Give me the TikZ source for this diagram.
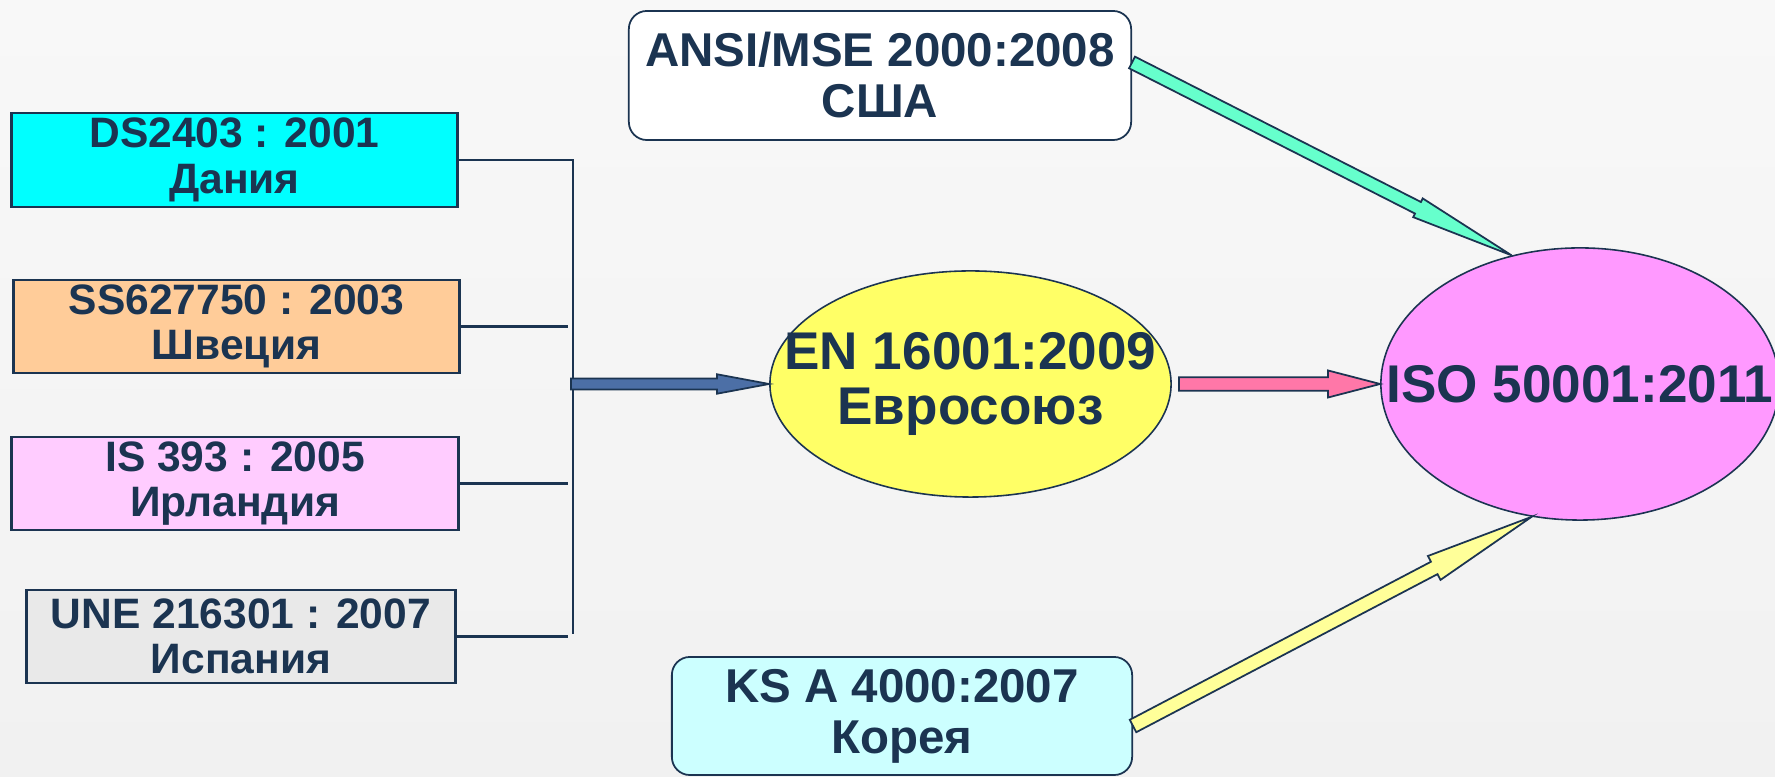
\documentclass[tikz,border=0pt]{standalone}
\usepackage{fontspec}
\setmainfont{Liberation Sans}
\usepackage{tikz}
\usetikzlibrary{shapes.geometric,calc}
\usepackage{xcolor}
\definecolor{ink}{HTML}{1B3451}
\definecolor{bgtop}{HTML}{F8F8F8}
\definecolor{bgbot}{HTML}{F1F1F1}
\definecolor{arblue}{HTML}{4C6FA6}
\definecolor{arpink}{HTML}{FF77A8}
\definecolor{argreen}{HTML}{66FFCC}
\definecolor{aryellow}{HTML}{FFFF99}
\definecolor{dkfill}{HTML}{00FFFF}
\definecolor{sefill}{HTML}{FFCC99}
\definecolor{iefill}{HTML}{FFCCFF}
\definecolor{esfill}{HTML}{E9E9E9}
\definecolor{krfill}{HTML}{CCFFFF}
\definecolor{eufill}{HTML}{FFFF66}
\definecolor{isofill}{HTML}{FF99FF}
\newcommand{\fatarrow}[6] {
    \coordinate (hb) at ($(#3)!#6!(#2)$);
    \draw[arrowline,fill={#1}] ($(#2)!#4!90:(#3)$) -- ($(hb)!#4!90:(#3)$) -- ($(hb)!#5!90:(#3)$) -- (#3)
        -- ($(hb)!#5!-90:(#3)$) -- ($(hb)!#4!-90:(#3)$) -- ($(#2)!#4!-90:(#3)$) -- cycle;
}
\tikzset{
    stdbox/.style={
        draw=ink,
        line width=0.8pt,
        text=ink,
        align=center,
        inner sep=0pt,
        font=\fontsize{12.1}{12.9}\selectfont\bfseries
    },
    rndbox/.style={
        stdbox,
        line width=0.5pt,
        rounded corners=0.18cm,
        font=\fontsize{13.5}{14.5}\selectfont\bfseries
    },
    oval/.style={
        ellipse,
        draw=ink,
        line width=0.45pt,
        inner sep=0pt
    },
    ovaltext/.style={
        text=ink,
        align=center,
        inner sep=0pt,
        font=\fontsize{15.1}{15.5}\selectfont\bfseries
    },
    lnk/.style={draw=ink,line width=0.7pt},
    arrowline/.style={draw=ink,line width=0.5pt,line join=miter}
}
\begin{document}
\begin{tikzpicture}[x=0.01cm,y=-0.01cm]
    \path[use as bounding box] (0,0) rectangle (1775,777);
    \shade[top color=bgtop,bottom color=bgbot] (0,0) rectangle (1775,777);
    % national standards
    \node[stdbox,fill=dkfill,minimum width=4.45cm,minimum height=0.94cm] (dk) at (234.5,160) {DS2403 : 2001\\Дания};
    \node[stdbox,fill=sefill,minimum width=4.45cm,minimum height=0.93cm] (se) at (236.5,326.5) {SS627750 : 2003\\Швеция};
    \node[stdbox,fill=iefill,minimum width=4.46cm,minimum height=0.93cm] (ie) at (235,483.5) {IS 393 : 2005\\Ирландия};
    \node[stdbox,fill=esfill,minimum width=4.28cm,minimum height=0.93cm] (es) at (241,636.5) {UNE 216301 : 2007\\Испания};
    \node[rndbox,fill=white,minimum width=5.02cm,minimum height=1.29cm] (us) at (880,75.5) {ANSI/MSE 2000:2008\\США};
    \node[rndbox,fill=krfill,minimum width=4.6cm,minimum height=1.18cm] (kr) at (902,716) {KS A 4000:2007\\Корея};
    % regional and international
    \node[oval,fill=eufill,minimum width=4.01cm,minimum height=2.26cm] (eu) at (970.5,384) {};
    \node[ovaltext] (eutx) at (eu) {EN 16001:2009\\Евросоюз};
    \node[oval,fill=isofill,minimum width=3.98cm,minimum height=2.72cm] (iso) at (1580,384) {};
    \node[ovaltext] (isotx) at (iso) {ISO 50001:2011};
    % bracket
    \coordinate (bt) at (573,160);
    \coordinate (bb) at (573,634);
    \coordinate (stub) at (568,0);
    \draw[lnk] (dk.east) -- (bt) -- (bb);
    \foreach \c in {se,ie,es}
        \draw[lnk] (\c.east) -- (\c.east -| stub);
    % arrows
    \coordinate (bj) at (571,384);
    \fatarrow{arblue}{bj}{eu.west}{0.055cm}{0.097cm}{0.52cm}
    \coordinate (pk) at ([xshift=0.07cm]eu.east);
    \fatarrow{arpink}{pk}{iso.west}{0.067cm}{0.135cm}{0.52cm}
    \coordinate (gs) at ([yshift=0.13cm]us.east);
    \fatarrow{argreen}{gs}{iso.118}{0.065cm}{0.105cm}{1.05cm}
    \coordinate (ys) at ([yshift=-0.1cm]kr.east);
    \fatarrow{aryellow}{ys}{iso.250}{0.07cm}{0.135cm}{1.1cm}
\end{tikzpicture}
\end{document}
